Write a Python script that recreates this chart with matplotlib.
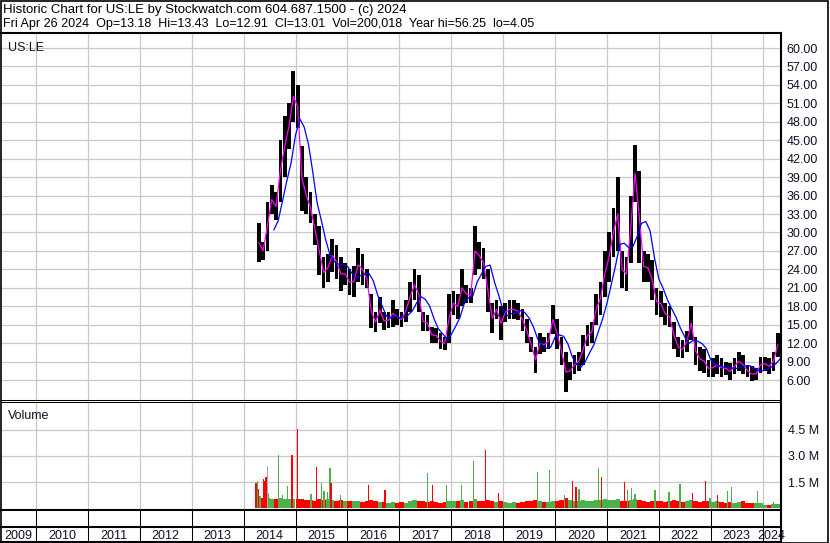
import numpy as np
import pandas as pd
import matplotlib
matplotlib.use("Agg")
import matplotlib.pyplot as plt
from matplotlib.patches import Rectangle

plt.rcParams['font.family'] = ['Liberation Sans', 'DejaVu Sans']

# ---------------- data (monthly, Apr 2014 .. Apr 2024) ----------------
start_year, start_month = 2014, 4

price_hi = [
    31.5, 28.5, 35.0, 37.7, 36.5, 45.0, 49.0, 51.0, 56.2,                   # 2014 Apr-Dec
    54.0, 44.0, 39.0, 36.5, 33.0, 31.0, 26.0, 26.5, 29.0, 28.0, 26.0, 25.0,  # 2015
    24.0, 24.5, 27.5, 26.5, 24.0, 20.0, 17.0, 19.5, 17.0, 17.0, 19.0, 17.5,  # 2016
    17.0, 19.0, 22.0, 24.0, 23.0, 17.0, 16.5, 14.7, 14.5, 13.6, 13.0, 20.0,  # 2017
    20.5, 20.0, 24.0, 21.5, 21.0, 31.0, 28.5, 27.5, 24.0, 18.5, 19.0, 18.0,  # 2018
    18.5, 19.0, 19.0, 18.5, 17.5, 16.0, 13.0, 11.4, 13.6, 13.0, 13.6, 18.2,  # 2019
    16.0, 13.0, 10.6, 9.0, 10.0, 10.6, 13.3, 15.0, 15.5, 20.0, 22.0, 27.0,   # 2020
    30.0, 34.0, 39.0, 27.0, 26.0, 36.0, 44.3, 40.0, 27.0, 26.5, 25.5, 21.0,  # 2021
    20.5, 18.5, 18.0, 15.5, 13.0, 12.5, 14.0, 18.0, 13.0, 11.4, 11.0, 9.3,   # 2022
    9.5, 10.0, 9.5, 9.0, 8.8, 9.5, 10.6, 10.0, 8.5, 8.2, 8.0, 9.8,           # 2023
    9.8, 9.5, 10.5, 13.6,                                                    # 2024
]
price_lo = [
    25.2, 25.5, 27.0, 33.0, 32.0, 35.0, 39.0, 43.5, 48.0,
    47.0, 33.5, 33.0, 31.5, 28.0, 23.0, 21.0, 22.0, 23.5, 22.5, 20.5, 21.5,
    19.8, 19.5, 22.0, 21.5, 21.0, 14.5, 13.8, 15.2, 14.2, 14.5, 14.7, 15.0,
    14.7, 15.5, 17.0, 19.0, 17.0, 14.0, 14.0, 12.0, 12.0, 11.0, 10.9, 12.0,
    16.5, 16.0, 18.0, 18.5, 18.5, 23.0, 24.0, 22.5, 17.0, 13.6, 16.0, 12.5,
    15.5, 16.0, 16.0, 15.8, 14.0, 12.0, 10.5, 7.1, 10.3, 10.5, 11.0, 13.5,
    11.0, 8.5, 4.05, 6.0, 7.0, 7.5, 8.5, 11.5, 12.0, 15.0, 16.5, 19.5,
    22.0, 26.0, 27.0, 21.0, 20.5, 25.0, 35.0, 25.0, 22.0, 22.0, 19.0, 16.5,
    16.3, 15.0, 14.7, 11.0, 9.8, 9.5, 10.5, 12.5, 8.5, 7.5, 7.1, 6.5,
    6.5, 7.0, 6.5, 6.8, 6.0, 7.0, 7.5, 7.0, 6.5, 5.8, 6.0, 7.2,
    7.5, 7.0, 7.5, 9.8,
]

# typical weekly volume per month (millions)
vol_base = [
    0.7, 0.6, 0.6, 0.5, 0.5, 0.6, 0.5, 0.5, 0.5,
    0.5, 0.5, 0.45, 0.45, 0.4, 0.5, 0.45, 0.5, 0.45, 0.4, 0.45, 0.4,
    0.4, 0.4, 0.4, 0.35, 0.4, 0.45, 0.4, 0.35, 0.35, 0.3, 0.35, 0.3,
    0.35, 0.3, 0.4, 0.45, 0.4, 0.4, 0.35, 0.4, 0.35, 0.3, 0.35, 0.4,
    0.4, 0.4, 0.45, 0.35, 0.4, 0.5, 0.4, 0.4, 0.45, 0.4, 0.35, 0.4,
    0.35, 0.3, 0.35, 0.3, 0.35, 0.4, 0.4, 0.45, 0.4, 0.35, 0.35, 0.4,
    0.4, 0.45, 0.55, 0.45, 0.4, 0.4, 0.45, 0.4, 0.4, 0.45, 0.45, 0.5,
    0.45, 0.45, 0.5, 0.4, 0.4, 0.45, 0.5, 0.45, 0.4, 0.35, 0.4, 0.4,
    0.4, 0.35, 0.4, 0.45, 0.4, 0.35, 0.4, 0.45, 0.4, 0.35, 0.4, 0.4,
    0.35, 0.4, 0.35, 0.3, 0.35, 0.3, 0.35, 0.4, 0.3, 0.3, 0.3, 0.3,
    0.2, 0.2, 0.25, 0.25,
]

# single heavy-volume weeks: (decimal year, volume in M, colour)
spike_t = [2014.239, 2014.272, 2014.291, 2014.380, 2014.412, 2014.432, 2014.464, 2014.484,
           2014.676, 2014.75, 2014.842, 2014.933, 2015.035, 2015.30, 2015.408, 2015.505,
           2015.55, 2015.62, 2015.665, 2015.684, 2015.871, 2016.403, 2016.725, 2017.547,
           2017.636, 2017.913, 2018.202, 2018.433, 2018.665, 2018.908, 2019.667, 2019.898,
           2020.179, 2020.341, 2020.405, 2020.462, 2020.834, 2020.900, 2021.343, 2021.401,
           2021.478, 2021.541, 2021.927, 2022.197, 2022.408, 2022.653, 2022.904, 2022.986,
           2023.135, 2023.320, 2023.405, 2023.898, 2024.206]
spike_vol = [1.46, 1.56, 1.10, 1.67, 1.56, 1.80, 2.40, 0.85,
             3.06, 0.75, 1.29, 3.06, 4.56, 0.80, 2.37, 1.42,
             1.00, 0.90, 2.30, 1.42, 0.75, 1.33, 1.04, 2.00,
             1.33, 1.33, 1.33, 2.70, 3.35, 0.85, 2.06, 2.20,
             0.75, 1.56, 1.21, 1.10, 2.29, 1.81, 1.48, 1.02,
             1.13, 0.83, 1.04, 0.90, 1.37, 0.85, 1.56, 0.56,
             0.75, 0.98, 1.21, 0.98, 0.33]
spike_col = ['r', 'g', 'r', 'r', 'r', 'r', 'n', 'g',
             'g', 'g', 'g', 'r', 'r', 'g', 'r', 'g',
             'g', 'g', 'g', 'r', 'g', 'r', 'r', 'g',
             'r', 'g', 'g', 'g', 'r', 'r', 'g', 'g',
             'g', 'r', 'r', 'g', 'g', 'r', 'r', 'g',
             'g', 'g', 'g', 'g', 'g', 'r', 'r', 'g',
             'r', 'g', 'g', 'g', 'g']

header1 = "Historic Chart for US:LE by Stockwatch.com 604.687.1500 - (c) 2024"
header2 = ("Fri Apr 26 2024  Op=13.18  Hi=13.43  Lo=12.91  Cl=13.01  "
           "Vol=200,018  Year hi=56.25  lo=4.05")
year_labels = list(range(2009, 2025))

# ---------------- prepare ----------------
n = len(price_hi)
months = pd.period_range(f"{start_year}-{start_month:02d}", periods=n, freq="M")
t_mid = np.array([p.year + (p.month - 0.5) / 12 for p in months])
df = pd.DataFrame({"t": t_mid, "hi": price_hi, "lo": price_lo, "vol": vol_base})
df["mid"] = (df.hi + df.lo) / 2
df["ma_long"] = df.mid.rolling(4).mean()
df["up"] = df.mid.diff().fillna(0) >= 0

colmap = {'r': '#ff0000', 'g': '#4cb04c', 'n': '#a8a8a8'}
GRID = '#c8c8c8'
TXT = '#101028'

W, H = 830, 543
fig = plt.figure(figsize=(W / 100, H / 100), dpi=100)


def box(x0, y0, x1, y1):
    return [x0 / W, 1 - y1 / H, (x1 - x0) / W, (y1 - y0) / H]


# pixel x = 36 + (t - 2010) * 51.9
t_left = 2010 + (1 - 36) / 51.9
t_right = 2010 + (781 - 36) / 51.9
year_b = np.arange(2010, 2025)

ax_p = fig.add_axes(box(1, 33, 781, 400))
ax_v = fig.add_axes(box(1, 402, 781, 510))
ax_s = fig.add_axes(box(1, 510, 781, 527))
ax_y = fig.add_axes(box(1, 527, 781, 542))

for a in (ax_p, ax_v, ax_s, ax_y):
    a.set_xlim(t_left, t_right)
    a.set_xticks(year_b)
    a.tick_params(axis='x', length=0, labelbottom=False)
    for s in a.spines.values():
        s.set_color('black')
        s.set_linewidth(0.75)
    a.spines['right'].set_linewidth(1.5)
    a.spines['left'].set_visible(False)

# ---------------- price panel ----------------
ax_p.set_ylim(2.75, 62.44)
ax_p.set_yticks(np.arange(6, 61, 3))
ax_p.set_yticklabels([f"{v:.2f}" for v in np.arange(6, 61, 3)])
ax_p.yaxis.tick_right()
ax_p.tick_params(axis='y', length=0, pad=4, labelsize=9, labelcolor=TXT)
ax_p.grid(True, color=GRID, lw=0.9)
ax_p.set_axisbelow(True)
ax_p.spines['top'].set_linewidth(1.5)

ax_p.bar(df.t, df.hi - df.lo, bottom=df.lo, width=1 / 12 * 0.85, color='black', lw=0)
ax_p.plot(df.t, df.mid, color='#ff00ff', lw=0.9)
ax_p.plot(df.t + 1 / 24, df.ma_long, color='#0000ff', lw=0.9)
ax_p.text(0.0095, 0.975, "US:LE", transform=ax_p.transAxes, fontsize=9,
          color=TXT, ha='left', va='top')

# ---------------- volume panel ----------------
ax_v.set_ylim(-0.115, 6.115)
ax_v.set_yticks([1.5, 3.0, 4.5])
ax_v.set_yticklabels(["1.5 M", "3.0 M", "4.5 M"])
ax_v.yaxis.tick_right()
ax_v.tick_params(axis='y', length=0, pad=5, labelsize=9, labelcolor=TXT)
ax_v.grid(True, color=GRID, lw=0.9)
ax_v.set_axisbelow(True)
ax_v.spines['bottom'].set_linewidth(1.5)

ax_v.bar(df.t, df.vol, width=1 / 12, color=np.where(df.up, colmap['g'], colmap['r']), lw=0)
ax_v.bar(spike_t, spike_vol, width=1.4 / 51.9, color=[colmap[c] for c in spike_col], lw=0)
ax_v.text(0.0095, 0.93, "Volume", transform=ax_v.transAxes, fontsize=9,
          color=TXT, ha='left', va='top')

# ---------------- date strips ----------------
for a in (ax_s, ax_y):
    a.set_ylim(0, 1)
    a.set_yticks([])
    a.vlines(year_b, 0, 1, colors='black', lw=0.75)
ax_y.spines['top'].set_linewidth(1.5)
ax_y.spines['bottom'].set_linewidth(1.5)

edges = [t_left] + list(year_b) + [t_right]
for i, yr in enumerate(year_labels):
    ax_y.text((edges[i] + edges[i + 1]) / 2, 0.42, str(yr), ha='center', va='center',
              fontsize=9, color=TXT, clip_on=False)

# ---------------- header + border ----------------
fig.text(3 / W, 1 - 12.7 / H, header1, fontsize=9.5, color='black', va='baseline')
fig.text(3 / W, 1 - 26.7 / H, header2, fontsize=9, color='black', va='baseline')
fig.add_artist(Rectangle((0.5 / W, 0.5 / H), (W - 2.5) / W, (H - 1.5) / H,
                         transform=fig.transFigure, fill=False, ec='black', lw=1.2))

fig.savefig("out.png", dpi=100)
